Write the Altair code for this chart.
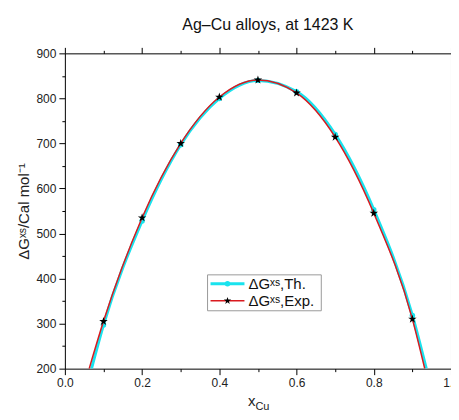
import altair as alt
import pandas as pd

# ---- data ----
x_pts = [0.1, 0.2, 0.3, 0.4, 0.5, 0.6, 0.7, 0.8, 0.9]
y_th = [297, 528, 697, 800, 840, 815, 720, 553, 318]
y_exp = [305, 535, 700, 803, 841, 812, 714, 545, 310]
# where each curve leaves the plot at the bottom (y = 200)
th_ends_x = [0.069, 0.936]
exp_ends_x = [0.063, 0.932]
ends_y = [200, 200]

x_ticks = [0.0, 0.1, 0.2, 0.3, 0.4, 0.5, 0.6, 0.7, 0.8, 0.9, 1.0]
y_ticks = [200, 250, 300, 350, 400, 450, 500, 550, 600, 650, 700, 750, 800, 850, 900]

CYAN = "#19E3EE"
RED = "#DA1A1F"
FONT = "Liberation Sans"
STAR = ("M0,-1L0.2245,-0.309L0.951,-0.309L0.3633,0.118L0.5878,0.809L0,0.382"
        "L-0.5878,0.809L-0.3633,0.118L-0.951,-0.309L-0.2245,-0.309Z")

pts = pd.DataFrame({"x": x_pts, "th": y_th, "exp": y_exp})
th_curve = pd.DataFrame({"x": [th_ends_x[0]] + x_pts + [th_ends_x[1]],
                         "y": [ends_y[0]] + y_th + [ends_y[1]]})
exp_curve = pd.DataFrame({"x": [exp_ends_x[0]] + x_pts + [exp_ends_x[1]],
                          "y": [ends_y[0]] + y_exp + [ends_y[1]]})

xs = alt.Scale(domain=[0, 1], nice=False, zero=False)
ys = alt.Scale(domain=[200, 900], nice=False, zero=False)

x_tick_size = {"condition": {"test": "round(datum.value*10)%2==0", "value": 6}, "value": 3}
y_tick_size = {"condition": {"test": "datum.value%100==0", "value": 6}, "value": 3}

x_axis_bottom = alt.Axis(orient="bottom", values=x_ticks, tickSize=x_tick_size,
                         labelExpr="round(datum.value*10)%2==0 ? format(datum.value,'.1f') : ''",
                         labelFlush=False, title=None, grid=False)
y_axis_left = alt.Axis(orient="left", values=y_ticks, tickSize=y_tick_size,
                       labelExpr="datum.value%100==0 ? format(datum.value,'d') : ''",
                       title="ΔGˣˢ/Cal mol⁻¹", titleFontSize=15, titleFontWeight="normal",
                       titleFont=FONT, titleColor="#222", titlePadding=4, grid=False)
x_axis_top = alt.Axis(orient="top", values=x_ticks, tickSize=x_tick_size, labels=False,
                      title=None, grid=False)
y_axis_right = alt.Axis(orient="right", values=y_ticks, tickSize=y_tick_size, labels=False,
                        title=None, grid=False)

th_line = alt.Chart(th_curve).mark_line(color=CYAN, strokeWidth=3, interpolate="monotone",
                                        clip=True).encode(
    x=alt.X("x:Q", scale=xs, axis=x_axis_bottom),
    y=alt.Y("y:Q", scale=ys, axis=y_axis_left),
)
th_pts = alt.Chart(pts).mark_point(filled=True, shape="circle", size=30, color=CYAN,
                                   opacity=1).encode(
    x=alt.X("x:Q", scale=xs, axis=None), y=alt.Y("th:Q", scale=ys, axis=None))
exp_line = alt.Chart(exp_curve).mark_line(color=RED, strokeWidth=1.5, interpolate="monotone",
                                          clip=True).encode(
    x=alt.X("x:Q", scale=xs, axis=x_axis_top),
    y=alt.Y("y:Q", scale=ys, axis=y_axis_right),
)
exp_pts = alt.Chart(pts).mark_point(filled=True, shape=STAR, size=80, color="black",
                                    opacity=1).encode(
    x=alt.X("x:Q", scale=xs, axis=None), y=alt.Y("exp:Q", scale=ys, axis=None))

one = pd.DataFrame({"a": [0]})
leg_box = alt.Chart(one).mark_rect(fill="white", stroke="#9a9a9a", strokeWidth=1).encode(
    x=alt.value(143), x2=alt.value(257), y=alt.value(222), y2=alt.value(258))
leg_l1 = alt.Chart(one).mark_rule(color=CYAN, strokeWidth=3).encode(
    x=alt.value(146), x2=alt.value(180), y=alt.value(231))
leg_p1 = alt.Chart(one).mark_point(filled=True, shape="circle", size=30, color=CYAN,
                                   opacity=1).encode(x=alt.value(163), y=alt.value(231))
leg_l2 = alt.Chart(one).mark_rule(color=RED, strokeWidth=1.5).encode(
    x=alt.value(146), x2=alt.value(180), y=alt.value(248))
leg_p2 = alt.Chart(one).mark_point(filled=True, shape=STAR, size=60, color="black",
                                   opacity=1).encode(x=alt.value(163), y=alt.value(248))
leg_t1 = alt.Chart(one).mark_text(align="left", baseline="middle", fontSize=15, font=FONT,
                                  color="#111").encode(
    x=alt.value(184), y=alt.value(231), text=alt.value("ΔGˣˢ,Th."))
leg_t2 = alt.Chart(one).mark_text(align="left", baseline="middle", fontSize=15, font=FONT,
                                  color="#111").encode(
    x=alt.value(184), y=alt.value(248), text=alt.value("ΔGˣˢ,Exp."))

xt1 = alt.Chart(one).mark_text(align="right", baseline="alphabetic", fontSize=15, font=FONT,
                               color="#222").encode(
    x=alt.value(191), y=alt.value(353), text=alt.value("x"))
xt2 = alt.Chart(one).mark_text(align="left", baseline="alphabetic", fontSize=11, font=FONT,
                               color="#222").encode(
    x=alt.value(191), y=alt.value(357), text=alt.value("Cu"))

chart = alt.layer(
    th_line, th_pts, exp_line, exp_pts,
    leg_box, leg_l1, leg_p1, leg_l2, leg_p2, leg_t1, leg_t2, xt1, xt2,
).properties(
    width=387, height=316,
    title=alt.TitleParams("Ag–Cu alloys, at 1423 K", fontSize=16, font=FONT,
                          fontWeight="normal", color="#111", dx=10, offset=14),
    autosize=alt.AutoSizeParams(type="none"),
    padding={"left": 57, "top": 45, "right": 0, "bottom": 43},
).configure_axis(
    domainColor="black", domainWidth=1, tickColor="black", tickWidth=1,
    labelFont=FONT, labelFontSize=12, labelColor="#222", labelPadding=3,
).configure_view(stroke=None)

chart.save("out.html", embed_options={"renderer": "svg", "actions": False})
